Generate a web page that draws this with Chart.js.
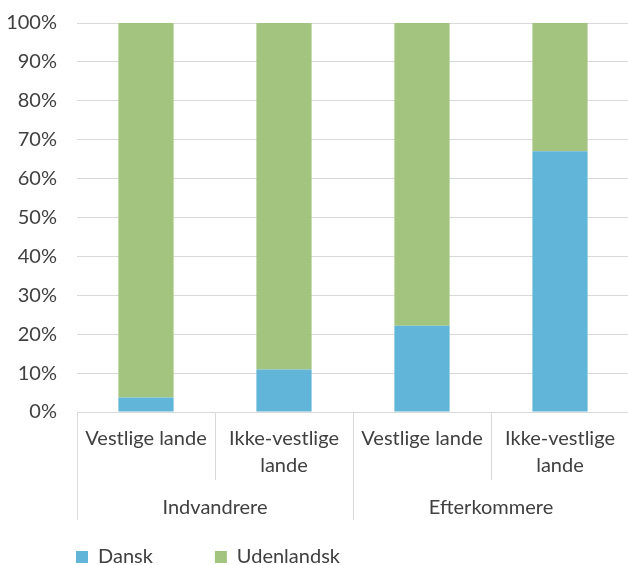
<!DOCTYPE html>
<html>
<head>
<meta charset="utf-8">
<script src="https://cdn.jsdelivr.net/npm/chart.js@4"></script>
<style>
  html, body { margin: 0; padding: 0; background: #fff; overflow: hidden; }
  #wrap { width: 628px; height: 565px; overflow: hidden; }
  #box { position: relative; width: 630px; height: 577px; }
</style>
</head>
<body>
<div id="wrap"><div id="box"><canvas id="chart"></canvas></div></div>
<script>
// categories (two levels) and the series
var categories = [['Vestlige lande'], ['Ikke-vestlige', 'lande'], ['Vestlige lande'], ['Ikke-vestlige', 'lande']];
var groups = ['Indvandrere', 'Efterkommere'];
var dansk = [3.7, 10.9, 22.2, 67.0];
var udenlandsk = [96.3, 89.1, 77.8, 33.0];
var yTicks = [0, 10, 20, 30, 40, 50, 60, 70, 80, 90, 100];

var TEXT = '#404040';
var GRID = '#d9d9d9';
var FONT = 'Lato, "Open Sans", sans-serif';

// draws the category separators and the group row under the axis
const groupAxis = {
    id: 'groupAxis',
    afterLayout(chart) {
        // legend starts under the plot, not at the canvas edge
        chart.legend.left += 14;
        chart.legend.right += 14;
    },
    afterDraw(chart) {
        const xs = chart.scales.x;
        const ctx = chart.ctx;
        const n = categories.length;
        const per = n / groups.length;
        const half = (xs.getPixelForValue(1) - xs.getPixelForValue(0)) / 2;
        const top = chart.chartArea.bottom;
        ctx.save();
        ctx.strokeStyle = GRID;
        ctx.lineWidth = 1;
        for (let j = 0; j <= n; j++) {
            const x = Math.round(xs.getPixelForValue(0) - half + j * 2 * half) + 0.5;
            const bottom = (j % per === 0) ? top + 108 : top + 68;
            ctx.beginPath();
            ctx.moveTo(x, top);
            ctx.lineTo(x, bottom);
            ctx.stroke();
        }
        ctx.fillStyle = TEXT;
        ctx.font = '20px ' + FONT;
        ctx.textAlign = 'center';
        ctx.textBaseline = 'middle';
        groups.forEach((g, k) => {
            const a = xs.getPixelForValue(k * per);
            const b = xs.getPixelForValue(k * per + per - 1);
            ctx.fillText(g, (a + b) / 2, top + 96);
        });
        ctx.restore();
    }
};

new Chart(document.getElementById('chart'), {
    type: 'bar',
    data: {
        labels: categories,
        datasets: [
            {
                label: 'Dansk',
                data: dansk,
                backgroundColor: '#61b5d8',
                barPercentage: 0.4,
                categoryPercentage: 1.0
            },
            {
                label: 'Udenlandsk',
                data: udenlandsk,
                backgroundColor: '#a2c47e',
                barPercentage: 0.4,
                categoryPercentage: 1.0
            }
        ]
    },
    options: {
        responsive: true,
        maintainAspectRatio: false,
        animation: false,
        layout: { padding: { left: 0, right: 1, top: 23, bottom: 0 } },
        plugins: {
            legend: {
                position: 'bottom',
                align: 'start',
                labels: {
                    boxWidth: 12,
                    boxHeight: 12,
                    padding: 62,
                    color: TEXT,
                    font: { family: FONT, size: 20 }
                }
            },
            tooltip: { enabled: false }
        },
        scales: {
            x: {
                stacked: true,
                grid: { display: true, drawOnChartArea: false, drawTicks: false },
                border: { color: GRID },
                ticks: {
                    color: TEXT,
                    padding: 13,
                    maxRotation: 0,
                    autoSkip: false,
                    font: { family: FONT, size: 20, lineHeight: 1.35 }
                },
                afterFit: function (scale) { scale.height = 73; }
            },
            y: {
                stacked: true,
                min: 0,
                max: 100,
                afterBuildTicks: function (scale) { scale.ticks = yTicks.map(v => ({ value: v })); },
                grid: { color: GRID, drawTicks: false },
                border: { display: false },
                ticks: {
                    color: TEXT,
                    padding: 20,
                    font: { family: FONT, size: 20 },
                    callback: v => v + '%'
                },
                afterFit: function (scale) {
                    scale.width = 77;
                    scale.paddingTop = 0;
                    scale.paddingBottom = 0;
                }
            }
        }
    },
    plugins: [groupAxis]
});
</script>
</body>
</html>
